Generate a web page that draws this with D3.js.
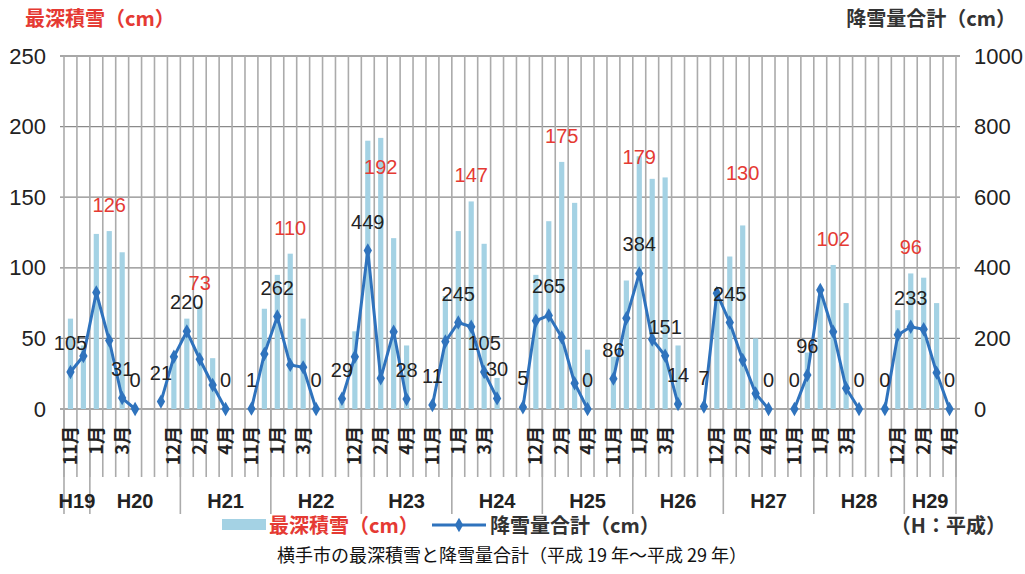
<!DOCTYPE html>
<html>
<head>
<meta charset="utf-8">
<script src="https://cdn.jsdelivr.net/npm/d3@7"></script>
<style>
  body { margin: 0; background: #fff; }
  svg { display: block; }
  text { font-family: "Liberation Sans", Arial, sans-serif; }
  .jp { font-family: "Noto Sans CJK JP", "Noto Sans", sans-serif; }
</style>
</head>
<body>
<svg id="chart" width="1025" height="574"></svg>
<script>
// months shown for each winter (Nov - Apr)
const months = ["11月", "12月", "1月", "2月", "3月", "4月"];
const yearLabels = ["H19", "H20", "H21", "H22", "H23", "H24", "H25", "H26", "H27", "H28", "H29"];
const leftTicks = [0, 50, 100, 150, 200, 250];
const rightTicks = [0, 200, 400, 600, 800, 1000];

// 最深積雪 (cm), 6 months per winter, H19-20 ... H28-29
const depth = [
  64, 45, 124, 126, 111, 0,
  0, 35, 64, 73, 36, 0,
  0, 71, 95, 110, 64, 0,
  5, 55, 190, 192, 121, 45,
  0, 80, 126, 147, 117, 22,
  0, 95, 133, 175, 146, 42,
  37, 91, 179, 163, 164, 45,
  0, 85, 108, 130, 50, 0,
  0, 40, 80, 102, 75, 0,
  0, 70, 96, 93, 75, 0
];
// 降雪量合計 (cm)
const snowfall = [
  105, 150, 330, 194, 31, 0,
  21, 148, 220, 141, 68, 0,
  1, 156, 262, 125, 118, 0,
  29, 148, 449, 87, 219, 28,
  11, 191, 245, 233, 105, 30,
  5, 250, 265, 203, 73, 0,
  86, 257, 384, 197, 151, 14,
  7, 328, 245, 139, 44, 0,
  0, 96, 337, 219, 59, 0,
  0, 210, 233, 226, 103, 0
];
// which months of each winter carry a snowfall label
const snowfallLabeled = [
  [0, 4, 5], [0, 2, 5], [0, 2, 5], [0, 2, 5], [0, 2, 4, 5],
  [0, 2, 5], [0, 2, 4, 5], [0, 2, 5], [0, 1, 5], [0, 2, 5]
];

const nWinters = depth.length / 6;
const nCat = nWinters * 7 - 1;           // one empty slot between winters
const catIndex = (w, m) => w * 7 + m;

// nudges for the red max labels (they were hand placed in the original)
const redLabelDy = [-19, -16, -19, 36, -19, -19, 8, -45, -19, -19];

const svg = d3.select("#chart");
const plot = { left: 64, right: 956, top: 56, bottom: 409 };

const x = d3.scaleBand().domain(d3.range(nCat)).range([plot.left, plot.right]).padding(0);
const yL = d3.scaleLinear().domain([0, 250]).range([plot.bottom, plot.top]);
const yR = d3.scaleLinear().domain([0, 1000]).range([plot.bottom, plot.top]);
const cx = i => x(i) + x.bandwidth() / 2;

const points = [];
depth.forEach((d, k) => {
  const w = Math.floor(k / 6), m = k % 6;
  points.push({ w, m, i: catIndex(w, m), depth: d, fall: snowfall[k] });
});

// horizontal gridlines
svg.append("g").selectAll("line")
  .data(leftTicks).join("line")
  .attr("x1", plot.left - 4).attr("x2", plot.right + 4)
  .attr("y1", d => yL(d)).attr("y2", d => yL(d))
  .attr("stroke", "#8a8a8a").attr("stroke-width", 1.3);

// vertical gridlines at every category boundary, running through the month labels
const bounds = d3.range(nCat + 1).map(i => i < nCat ? x(i) : plot.right);
svg.append("g").selectAll("line")
  .data(bounds).join("line")
  .attr("x1", d => d).attr("x2", d => d)
  .attr("y1", plot.top).attr("y2", 477)
  .attr("stroke", "#ababab").attr("stroke-width", 1.6);

// year separators (between Dec and Jan)
const seps = d3.range(nWinters).map(w => x(catIndex(w, 2)));
svg.append("g").selectAll("line")
  .data([plot.left, ...seps, plot.right]).join("line")
  .attr("x1", d => d).attr("x2", d => d)
  .attr("y1", plot.bottom).attr("y2", 514)
  .attr("stroke", "#ababab").attr("stroke-width", 1.6);

// bars
svg.append("g").selectAll("rect")
  .data(points).join("rect")
  .attr("x", d => cx(d.i) - 2.6)
  .attr("width", 5.2)
  .attr("y", d => yL(d.depth))
  .attr("height", d => plot.bottom - yL(d.depth))
  .attr("fill", "#a4d2e4");

// snowfall line, broken between winters
const line = d3.line().x(d => cx(d.i)).y(d => yR(d.fall));
svg.append("g").selectAll("path")
  .data(d3.groups(points, d => d.w).map(g => g[1])).join("path")
  .attr("d", line)
  .attr("fill", "none")
  .attr("stroke", "#2f73bd")
  .attr("stroke-width", 3);

svg.append("g").selectAll("path")
  .data(points).join("path")
  .attr("transform", d => `translate(${cx(d.i)},${yR(d.fall)})`)
  .attr("d", d3.symbol(d3.symbolDiamond, 60))
  .attr("fill", "#2f73bd");

// snowfall value labels
svg.append("g").selectAll("text")
  .data(points.filter(p => snowfallLabeled[p.w].includes(p.m))).join("text")
  .attr("x", d => cx(d.i))
  .attr("y", d => yR(d.fall) - 22)
  .attr("text-anchor", "middle")
  .attr("font-size", 20)
  .attr("fill", "#222")
  .text(d => d.fall);

// red labels at each winter's deepest snow
const maxPts = d3.range(nWinters).map(w => {
  const sub = points.filter(p => p.w === w);
  return sub[d3.maxIndex(sub, p => p.depth)];
});
svg.append("g").selectAll("text")
  .data(maxPts).join("text")
  .attr("x", d => cx(d.i))
  .attr("y", (d, k) => yL(d.depth) + redLabelDy[k])
  .attr("text-anchor", "middle")
  .attr("font-size", 20)
  .attr("fill", "#e53a33")
  .text(d => d.depth);

// left / right axes
const axL = svg.append("g").attr("transform", `translate(${plot.left - 18},0)`)
  .call(d3.axisLeft(yL).tickValues(leftTicks).tickSize(0).tickPadding(0));
axL.select(".domain").remove();
axL.selectAll("text").attr("font-size", 22).attr("fill", "#222")
  .attr("font-family", "Liberation Sans, Arial, sans-serif");

const axR = svg.append("g").attr("transform", `translate(${plot.right + 18},0)`)
  .call(d3.axisRight(yR).tickValues(rightTicks).tickSize(0).tickPadding(0).tickFormat(d3.format("d")));
axR.select(".domain").remove();
axR.selectAll("text").attr("font-size", 22).attr("fill", "#222")
  .attr("font-family", "Liberation Sans, Arial, sans-serif");

// month labels on every second category
const monthAt = i => {
  const m = i % 7;
  return (i % 2 === 0 && m < 6) ? months[m] : "";
};
const axX = svg.append("g").attr("transform", `translate(0,${plot.bottom})`)
  .call(d3.axisBottom(x).tickValues(d3.range(0, nCat, 2)).tickSize(0).tickFormat(monthAt));
axX.select(".domain").remove();
axX.selectAll("text")
  .attr("class", "jp")
  .attr("font-size", 18)
  .attr("font-weight", "bold")
  .attr("fill", "#222")
  .attr("transform", "rotate(-90)")
  .attr("text-anchor", "end")
  .attr("x", -17)
  .attr("y", 0)
  .attr("dy", "0.36em");

// year row
const yearEdges = [plot.left, ...seps, plot.right];
svg.append("g").selectAll("text")
  .data(yearLabels).join("text")
  .attr("x", (d, k) => (yearEdges[k] + yearEdges[k + 1]) / 2)
  .attr("y", 508)
  .attr("text-anchor", "middle")
  .attr("font-size", 20)
  .attr("font-weight", "bold")
  .attr("fill", "#222")
  .text(d => d);

// axis titles
svg.append("text").attr("class", "jp")
  .attr("x", 25).attr("y", 26)
  .attr("font-size", 20).attr("font-weight", "bold")
  .attr("fill", "#e53a33")
  .text("最深積雪（cm）");
svg.append("text").attr("class", "jp")
  .attr("x", 1016).attr("y", 26)
  .attr("text-anchor", "end")
  .attr("font-size", 20).attr("font-weight", "bold")
  .attr("fill", "#333")
  .text("降雪量合計（cm）");

// legend
const lg = svg.append("g");
lg.append("rect").attr("x", 222).attr("y", 519).attr("width", 44).attr("height", 11).attr("fill", "#a4d2e4");
lg.append("text").attr("class", "jp").attr("x", 269).attr("y", 533)
  .attr("font-size", 20).attr("font-weight", "bold").attr("fill", "#e53a33")
  .text("最深積雪（cm）");
lg.append("line").attr("x1", 432).attr("x2", 486).attr("y1", 525).attr("y2", 525)
  .attr("stroke", "#2f73bd").attr("stroke-width", 3);
lg.append("path").attr("transform", "translate(459,525)")
  .attr("d", d3.symbol(d3.symbolDiamond, 60)).attr("fill", "#2f73bd");
lg.append("text").attr("class", "jp").attr("x", 490).attr("y", 533)
  .attr("font-size", 20).attr("font-weight", "bold").attr("fill", "#333")
  .text("降雪量合計（cm）");
lg.append("text").attr("class", "jp").attr("x", 1006).attr("y", 533)
  .attr("text-anchor", "end")
  .attr("font-size", 20).attr("font-weight", "bold").attr("fill", "#333")
  .text("（H：平成）");

// caption
svg.append("text").attr("class", "jp")
  .attr("x", 512).attr("y", 562)
  .attr("text-anchor", "middle")
  .attr("font-size", 18).attr("fill", "#111")
  .text("横手市の最深積雪と降雪量合計（平成 19 年〜平成 29 年）");
</script>
</body>
</html>
